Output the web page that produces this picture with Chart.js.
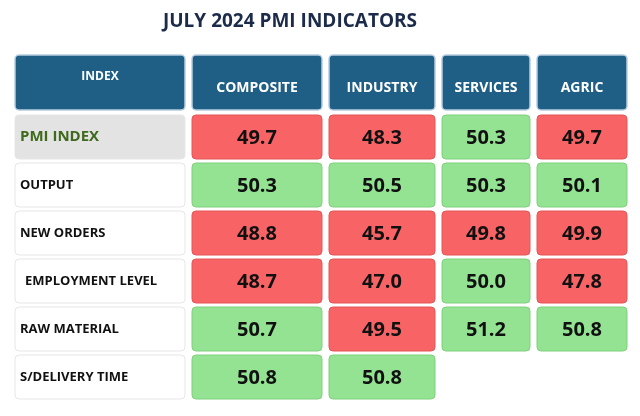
<!DOCTYPE html>
<html lang="en">
<head>
<meta charset="UTF-8">
<title>July 2024 PMI indicators</title>
<script src="https://cdn.jsdelivr.net/npm/chart.js"></script>
<style>
  html, body { margin: 0; padding: 0; background: #fff; }
  #wrap { width: 640px; height: 416px; }
</style>
</head>
<body>
<div id="wrap"><canvas id="pmiChart"></canvas></div>
<script>
// table data
const columns = ["COMPOSITE", "INDUSTRY", "SERVICES", "AGRIC"];
const rowLabels = ["PMI INDEX", "OUTPUT", "NEW ORDERS", "EMPLOYMENT LEVEL", "RAW MATERIAL", "S/DELIVERY TIME"];
const composite = [49.7, 50.3, 48.8, 48.7, 50.7, 50.8];
const industry  = [48.3, 50.5, 45.7, 47.0, 49.5, 50.8];
const services  = [50.3, 50.3, 49.8, 50.0, 51.2, null];
const agric     = [49.7, 50.1, 49.9, 47.8, 50.8, null];

// layout (pixel units on the hidden linear scales)
const colEdges = [[15, 185], [192, 322], [329, 435], [442, 530], [537, 627]];
const headerBox = [55, 110];
const rowTops = [115, 163, 211, 259, 307, 355];
const rowH = 44;

function rr(ctx, x, y, w, h, r) {
  ctx.beginPath();
  ctx.moveTo(x + r, y);
  ctx.arcTo(x + w, y, x + w, y + h, r);
  ctx.arcTo(x + w, y + h, x, y + h, r);
  ctx.arcTo(x, y + h, x, y, r);
  ctx.arcTo(x, y, x + w, y, r);
  ctx.closePath();
}

const tablePlugin = {
  id: "pmiTable",
  afterDraw(chart) {
    const ctx = chart.ctx, sx = chart.scales.x, sy = chart.scales.y;
    const series = [composite, industry, services, agric];
    const box = (c, y0, y1) => {
      const x0 = sx.getPixelForValue(colEdges[c][0]), x1 = sx.getPixelForValue(colEdges[c][1]);
      const a = sy.getPixelForValue(y0), b = sy.getPixelForValue(y1);
      return { x: x0, y: a, w: x1 - x0, h: b - a };
    };
    ctx.save();
    ctx.textBaseline = "middle";
    // title
    ctx.fillStyle = "#1c2b4a";
    ctx.font = "bold 19px 'Open Sans', sans-serif";
    ctx.textAlign = "center";
    ctx.fillText("JULY 2024 PMI INDICATORS", sx.getPixelForValue(290), sy.getPixelForValue(22));
    // header
    ["INDEX"].concat(columns).forEach((t, c) => {
      const b = box(c, headerBox[0], headerBox[1]);
      rr(ctx, b.x, b.y, b.w, b.h, 4);
      ctx.fillStyle = "#1f5f86"; ctx.fill();
      ctx.strokeStyle = "#b8cde0"; ctx.lineWidth = 1.5; ctx.stroke();
      ctx.fillStyle = "#fff";
      ctx.font = "bold " + (c === 0 ? 12 : 14) + "px 'Open Sans', sans-serif";
      ctx.fillText(t, b.x + b.w / 2, c === 0 ? b.y + 22 : b.y + b.h / 2 + 6);
    });
    // rows
    rowLabels.forEach((label, r) => {
      const b = box(0, rowTops[r], rowTops[r] + rowH);
      rr(ctx, b.x, b.y, b.w, b.h, 4);
      ctx.fillStyle = r === 0 ? "#e3e3e3" : "#ffffff"; ctx.fill();
      ctx.strokeStyle = "#e6e6e6"; ctx.lineWidth = 1; ctx.stroke();
      ctx.textAlign = "left";
      ctx.fillStyle = r === 0 ? "#3e6a1c" : "#111";
      ctx.font = "bold " + (r === 0 ? 15 : 13) + "px 'Open Sans', sans-serif";
      ctx.fillText(label, b.x + (r === 3 ? 10 : 5), b.y + b.h / 2);
      series.forEach((s, c) => {
        const v = s[r];
        if (v === null) return;
        const cb = box(c + 1, rowTops[r], rowTops[r] + rowH);
        rr(ctx, cb.x, cb.y, cb.w, cb.h, 4);
        ctx.fillStyle = v >= 50 ? "#93e393" : "#f86466"; ctx.fill();
        ctx.strokeStyle = v >= 50 ? "#7fd07f" : "#e65556"; ctx.stroke();
        ctx.textAlign = "center";
        ctx.fillStyle = "#111";
        ctx.font = "bold 20px 'Open Sans', sans-serif";
        ctx.fillText(v.toFixed(1), cb.x + cb.w / 2, cb.y + cb.h / 2 + 1);
      });
    });
    ctx.restore();
  }
};

new Chart(document.getElementById("pmiChart"), {
  type: "scatter",
  data: { datasets: [{ data: [], showLine: false }] },
  options: {
    responsive: true,
    maintainAspectRatio: false,
    animation: false,
    layout: { padding: 0 },
    plugins: { legend: { display: false }, tooltip: { enabled: false } },
    scales: {
      x: { type: "linear", min: 0, max: 640, display: false },
      y: { type: "linear", min: 0, max: 416, reverse: true, display: false }
    }
  },
  plugins: [tablePlugin]
});
</script>
</body>
</html>
